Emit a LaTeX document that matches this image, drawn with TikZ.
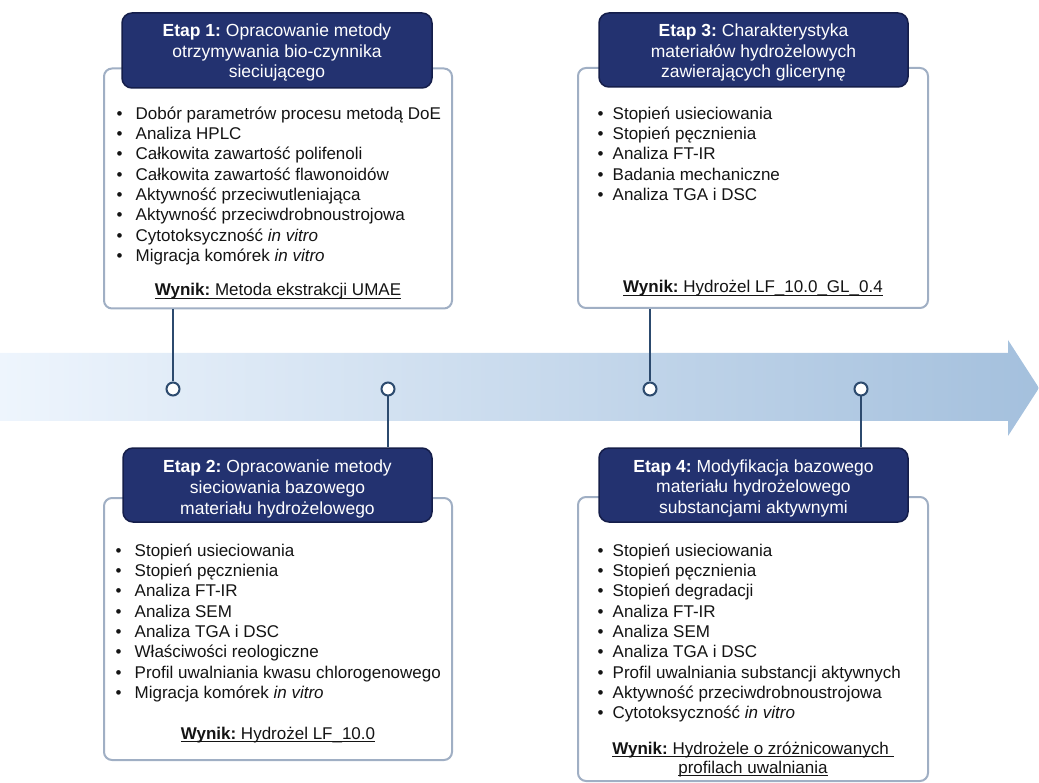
\documentclass[tikz,border=0pt]{standalone}
\usepackage{fontspec}
\setmainfont{Liberation Sans}
\frenchspacing
\newsavebox\wynikbox
\newcommand\ulined[1]{\sbox\wynikbox{#1}\rlap{\usebox\wynikbox}\rule[-2.6pt]{\wd\wynikbox}{0.85pt}}
\newcommand\itm{\makebox[19pt][l]{\textbullet}}
\newcommand\itmr{\makebox[15pt][l]{\textbullet}}
\definecolor{navy}{HTML}{233270}
\definecolor{navyline}{HTML}{151E4A}
\definecolor{boxline}{HTML}{A0AFC4}
\definecolor{connc}{HTML}{2C4A6E}
\definecolor{txt}{HTML}{141414}
\definecolor{bandL}{HTML}{EEF5FD}
\definecolor{bandR}{HTML}{A4C0DD}
\tikzset{
  outerbox/.style={draw=boxline, line width=2pt, rounded corners=8pt, fill=white, inner sep=0pt},
  headbox/.style={draw=navyline, line width=1.5pt, rounded corners=10pt, fill=navy, inner sep=0pt},
  headtext/.style={text=white, font=\fontsize{17.5}{20.6}\selectfont, inner sep=0pt, anchor=north},
  listtext/.style={text=txt, font=\fontsize{17}{20.3}\selectfont, inner sep=0pt, anchor=north west},
  wynik/.style={text=txt, font=\fontsize{17}{19.5}\selectfont, inner sep=0pt},
  dot/.style={circle, draw=connc, line width=2pt, fill=white, minimum size=13pt, inner sep=0pt},
  connline/.style={draw=connc, line width=2pt}
}
\begin{document}
\begin{tikzpicture}[x=1pt,y=-1pt]
\useasboundingbox (0,0) rectangle (1039,783);
% timeline band
\shade[left color=bandL, right color=bandR] (0,353) -- (1008,353) -- (1008,340) -- (1039,388) -- (1008,436) -- (1008,421) -- (0,421) -- cycle;

% boxes
\node[outerbox, minimum width=348pt, minimum height=240pt] (b1) at (278,188.5) {};
\node[outerbox, minimum width=350pt, minimum height=240pt] (b3) at (753,188) {};
\node[outerbox, minimum width=348pt, minimum height=262pt] (b2) at (278,629) {};
\node[outerbox, minimum width=350pt, minimum height=284pt] (b4) at (753,639) {};

\node[headbox, minimum width=310pt, minimum height=75pt] (h1) at (277,50.5) {};
\node[headbox, minimum width=309pt, minimum height=74pt] (h3) at (753.5,50) {};
\node[headbox, minimum width=309pt, minimum height=74pt] (h2) at (277.5,485) {};
\node[headbox, minimum width=309pt, minimum height=74pt] (h4) at (753.5,485) {};

% header texts
\node[headtext] (h1t) at (277,22) {\begin{tabular}{@{}c@{}}\textbf{Etap 1:} Opracowanie metody\\otrzymywania bio-czynnika\\sieciującego\end{tabular}};
\node[headtext] (h3t) at (753.5,22) {\begin{tabular}{@{}c@{}}\textbf{Etap 3:} Charakterystyka\\materiałów hydrożelowych\\zawierających glicerynę\end{tabular}};
\node[headtext] (h2t) at (277.5,458.3) {\begin{tabular}{@{}c@{}}\textbf{Etap 2:} Opracowanie metody\\sieciowania bazowego\\materiału hydrożelowego\end{tabular}};
\node[headtext] (h4t) at (753.5,457.6) {\begin{tabular}{@{}c@{}}\textbf{Etap 4:} Modyfikacja bazowego\\materiału hydrożelowego\\substancjami aktywnymi\end{tabular}};

% lists
\node[listtext] (l1) at (116.5,104.8) {\begin{tabular}{@{}l@{}}
\itm Dobór parametrów procesu metodą DoE\\
\itm Analiza HPLC\\
\itm Całkowita zawartość polifenoli\\
\itm Całkowita zawartość flawonoidów\\
\itm Aktywność przeciwutleniająca\\
\itm Aktywność przeciwdrobnoustrojowa\\
\itm Cytotoksyczność \textit{in vitro}\\
\itm Migracja komórek \textit{in vitro}
\end{tabular}};
\node[listtext] (l3) at (597.5,104.8) {\begin{tabular}{@{}l@{}}
\itmr Stopień usieciowania\\
\itmr Stopień pęcznienia\\
\itmr Analiza FT-IR\\
\itmr Badania mechaniczne\\
\itmr Analiza TGA i DSC
\end{tabular}};
\node[listtext] (l2) at (115.5,541.8) {\begin{tabular}{@{}l@{}}
\itm Stopień usieciowania\\
\itm Stopień pęcznienia\\
\itm Analiza FT-IR\\
\itm Analiza SEM\\
\itm Analiza TGA i DSC\\
\itm Właściwości reologiczne\\
\itm Profil uwalniania kwasu chlorogenowego\\
\itm Migracja komórek \textit{in vitro}
\end{tabular}};
\node[listtext] (l4) at (597.5,541.8) {\begin{tabular}{@{}l@{}}
\itmr Stopień usieciowania\\
\itmr Stopień pęcznienia\\
\itmr Stopień degradacji\\
\itmr Analiza FT-IR\\
\itmr Analiza SEM\\
\itmr Analiza TGA i DSC\\
\itmr Profil uwalniania substancji aktywnych\\
\itmr Aktywność przeciwdrobnoustrojowa\\
\itmr Cytotoksyczność \textit{in vitro}
\end{tabular}};

% results
\node[wynik, anchor=base] (w1) at (278,296) {\ulined{\textbf{Wynik:} Metoda ekstrakcji UMAE}};
\node[wynik, anchor=base] (w3) at (753,293) {\ulined{\textbf{Wynik:} Hydrożel LF\_10.0\_GL\_0.4}};
\node[wynik, anchor=base] (w2) at (278,739) {\ulined{\textbf{Wynik:} Hydrożel LF\_10.0}};
\node[wynik, anchor=north] (w4) at (753,740.3) {\begin{tabular}{@{}c@{}}\ulined{\textbf{Wynik:} Hydrożele o zróżnicowanych\ }\\\ulined{profilach uwalniania}\end{tabular}};

% timeline markers
\node[dot] (c1) at (173,389) {};
\node[dot] (c2) at (388,389) {};
\node[dot] (c3) at (650,389) {};
\node[dot] (c4) at (861,389) {};

% connectors
\draw[connline] (c1.north) -- (c1.north |- b1.south);
\draw[connline] (c2.south) -- (c2.south |- h2.north);
\draw[connline] (c3.north) -- (c3.north |- b3.south);
\draw[connline] (c4.south) -- (c4.south |- h4.north);
\end{tikzpicture}
\end{document}
